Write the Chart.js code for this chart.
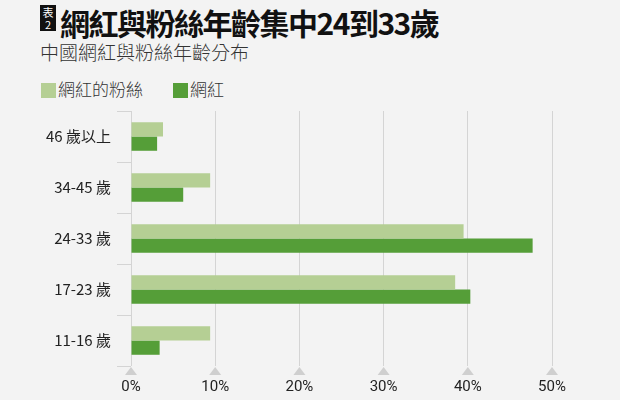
<!DOCTYPE html>
<html><head><meta charset="utf-8">
<script src="https://cdn.jsdelivr.net/npm/chart.js@4"></script>
<style>
body{margin:0;background:#f3f3f3;font-family:"Noto Sans CJK TC",sans-serif;width:620px;height:400px;position:relative;overflow:hidden}
#title{position:absolute;left:40px;top:0px;font-size:30px;font-weight:bold;color:#111;letter-spacing:-1.5px}
#title .tag{display:inline-block;background:#111;color:#fff;font-size:11px;line-height:12px;width:16px;text-align:center;vertical-align:6px;margin-right:4px;padding:1px 0;font-weight:normal;letter-spacing:0}
#sub{position:absolute;left:40px;top:38px;font-size:19px;color:#333;font-weight:300}
#legend{position:absolute;left:41px;top:76px;font-size:17px;color:#333;font-weight:300}
#legend span.sw{display:inline-block;width:15px;height:15px;vertical-align:-2px;margin-right:2px}
#wrap{position:absolute;left:0;top:96px;width:620px;height:304px}
</style></head><body>
<div id="title"><span class="tag">表<br>2</span>網紅與粉絲年齡集中24到33歲</div>
<div id="sub">中國網紅與粉絲年齡分布</div>
<div id="legend"><span class="sw" style="background:#b5cf94"></span>網紅的粉絲<span style="display:inline-block;width:30px"></span><span class="sw" style="background:#559e38"></span>網紅</div>
<div id="wrap"><canvas id="c"></canvas></div>
<script>
var categories = ['46 歲以上', '34-45 歲', '24-33 歲', '17-23 歲', '11-16 歲'];
var fansValues = [3.8, 9.4, 39.5, 38.5, 9.4];
var influencerValues = [3.1, 6.2, 47.7, 40.3, 3.4];

var triangles = {
    id: 'triangles',
    afterDraw: function (chart) {
        var ctx = chart.ctx, x = chart.scales.x, bottom = chart.chartArea.bottom;
        ctx.save();
        ctx.fillStyle = '#cfcfcf';
        x.ticks.forEach(function (t) {
            var px = x.getPixelForValue(t.value);
            ctx.beginPath();
            ctx.moveTo(px - 6, bottom + 9);
            ctx.lineTo(px + 6, bottom + 9);
            ctx.lineTo(px, bottom + 1);
            ctx.closePath();
            ctx.fill();
        });
        ctx.restore();
    }
};

window.onload = function () {
    var ctx = document.getElementById('c').getContext('2d');
    new Chart(ctx, {
        type: 'bar',
        data: {
            labels: categories,
            datasets: [{
                label: '網紅的粉絲',
                data: fansValues,
                backgroundColor: '#b5cf94'
            }, {
                label: '網紅',
                data: influencerValues,
                backgroundColor: '#559e38'
            }]
        },
        options: {
            indexAxis: 'y',
            responsive: true,
            maintainAspectRatio: false,
            animation: false,
            layout: { padding: { left: 40, right: 68, top: 0, bottom: 0 } },
            categoryPercentage: 0.56,
            barPercentage: 1,
            plugins: { legend: { display: false }, tooltip: { enabled: false } },
            scales: {
                x: {
                    min: 0, max: 50,
                    ticks: { stepSize: 10, padding: 4, color: '#222', font: { family: 'Roboto', size: 15 }, callback: function (v) { return v + '%'; } },
                    grid: { color: '#d4d4d4', drawTicks: true, tickLength: 8, tickColor: 'rgba(0,0,0,0)' },
                    border: { display: false }
                },
                y: {
                    ticks: { color: '#222', padding: 6, font: { family: 'Noto Sans CJK TC', size: 15 } },
                    grid: { offset: true, drawOnChartArea: false, color: '#d4d4d4', tickLength: 14 },
                    border: { display: false }
                }
            }
        },
        plugins: [triangles]
    });
};
</script>
</body></html>
